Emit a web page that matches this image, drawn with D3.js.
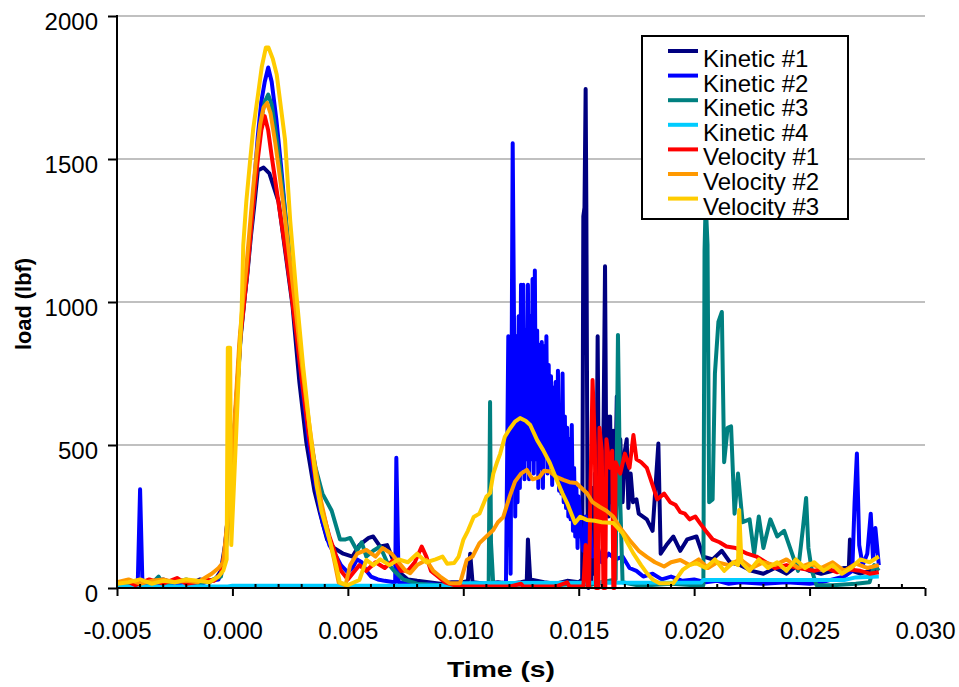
<!DOCTYPE html>
<html>
	<head>
		<meta charset="utf-8">
		<title>Load vs time</title>
		<style>
			body,html
			{
				margin:0px;
				background:#ffffff;
			}
			text
			{
				font-family:Arial, "Liberation Sans", sans-serif;
			}
		</style>
		<script src="https://d3js.org/d3.v7.min.js"></script>
	</head>
	<body>
	<svg id="chart" width="959" height="687"></svg>
	<script>

		// time in ms, load in lbf
		var kinetic1 = [[-5,15],[-4.6,20],[-4.2,12],[-3.8,25],[-3.4,15],[-3,30],[-2.6,18],[-2.2,25],[-1.8,15],[-1.4,30],[-1,20],[-0.7,35],[-0.5,60],[-0.3,160],[-0.1,340],[0.05,510],[0.2,700],[0.35,890],[0.5,1000],[0.65,1100],[0.8,1230],[0.95,1340],[1.1,1460],[1.35,1470],[1.6,1450],[1.8,1400],[2.0,1350],[2.3,1170],[2.6,990],[2.9,720],[3.2,510],[3.55,340],[3.8,260],[4.1,170],[4.4,140],[4.8,120],[5.2,110],[5.5,150],[5.9,175],[6.1,180],[6.4,145],[6.7,150],[7.0,90],[7.3,50],[7.6,30],[8,25],[8.5,20],[9,15],[9.5,20],[10,20],[10.2,25],[10.3,120],[10.4,20],[11,15],[11.5,20],[12,15],[12.5,20],[12.75,25],[12.8,170],[12.9,30],[13.5,20],[14,15],[14.5,25],[15,20],[15.15,30],[15.2,1300],[15.25,1330],[15.3,1745],[15.33,1340],[15.38,300],[15.42,0],[15.5,80],[15.55,20],[15.6,350],[15.65,50],[15.7,400],[15.75,100],[15.82,880],[15.88,250],[15.95,500],[16.0,200],[16.08,600],[16.14,1125],[16.2,350],[16.25,600],[16.3,250],[16.36,600],[16.42,300],[16.5,550],[16.57,280],[16.65,670],[16.72,320],[16.8,520],[16.9,300],[17.0,480],[17.08,520],[17.15,280],[17.25,400],[17.35,300],[17.5,310],[17.6,260],[17.95,240],[18.2,200],[18.45,505],[18.55,120],[18.8,150],[19.1,180],[19.4,130],[19.7,170],[20.1,180],[20.4,110],[20.8,100],[21.2,130],[21.55,90],[22,80],[22.5,60],[23,50],[23.5,70],[24,50],[24.5,80],[25,60],[25.5,50],[26,60],[26.5,70],[26.7,70],[26.75,170],[26.85,60],[27.2,50],[27.6,60],[28,70]];

		var kinetic2 = [[-5,10],[-4.5,15],[-4.1,20],[-4.0,345],[-3.9,20],[-3.5,10],[-3,20],[-2.5,15],[-2,20],[-1.5,10],[-1,25],[-0.6,30],[-0.4,80],[-0.2,250],[0,450],[0.2,680],[0.35,880],[0.5,1000],[0.65,1120],[0.8,1260],[0.95,1420],[1.1,1580],[1.25,1700],[1.4,1770],[1.55,1820],[1.7,1770],[1.9,1640],[2.1,1480],[2.3,1300],[2.5,1130],[2.75,930],[3.0,720],[3.3,510],[3.6,360],[3.9,230],[4.2,150],[4.5,110],[4.7,80],[5.0,55],[5.2,70],[5.4,100],[5.6,90],[5.8,60],[6.0,40],[6.3,30],[6.6,25],[7.0,20],[7.05,20],[7.1,455],[7.2,20],[7.6,15],[8,10],[8.5,15],[9,10],[9.5,15],[10,10],[10.5,15],[11,10],[11.5,15],[11.85,20],[11.95,880],[12.05,50],[12.14,1555],[12.2,900],[12.25,250],[12.3,880],[12.35,300],[12.4,950],[12.45,350],[12.5,1060],[12.55,420],[12.6,1060],[12.65,380],[12.7,900],[12.75,450],[12.8,1060],[12.85,380],[12.9,950],[12.95,450],[13.0,1080],[13.05,400],[13.1,1110],[13.15,450],[13.2,900],[13.25,350],[13.3,850],[13.35,420],[13.4,860],[13.45,350],[13.5,845],[13.55,470],[13.6,880],[13.65,400],[13.7,780],[13.75,430],[13.8,740],[13.85,360],[13.9,700],[13.95,420],[14.0,720],[14.05,380],[14.1,760],[14.15,340],[14.2,620],[14.25,330],[14.3,750],[14.35,300],[14.4,600],[14.45,280],[14.5,560],[14.55,250],[14.6,520],[14.65,240],[14.7,570],[14.75,200],[14.8,420],[14.85,180],[14.9,350],[14.95,140],[15.0,320],[15.1,200],[15.2,130],[15.3,250],[15.4,120],[15.5,200],[15.6,110],[15.8,150],[16.0,90],[16.3,120],[16.6,100],[16.9,110],[17.2,70],[17.5,60],[17.8,40],[18.2,50],[18.6,30],[19,40],[19.5,25],[20,30],[20.5,20],[21,25],[21.5,15],[22,20],[23,15],[24,20],[25,15],[25.5,20],[26,30],[26.5,40],[26.85,60],[26.95,300],[27.05,470],[27.15,150],[27.3,80],[27.5,120],[27.65,260],[27.75,100],[27.85,210],[28,80]];

		var kinetic3 = [[-5,20],[-4.5,10],[-4,25],[-3.5,15],[-3.2,40],[-3,15],[-2.5,20],[-2,30],[-1.5,15],[-1,25],[-0.5,40],[-0.3,120],[-0.1,300],[0.05,480],[0.2,680],[0.35,870],[0.5,990],[0.65,1110],[0.8,1250],[0.95,1380],[1.1,1520],[1.25,1640],[1.4,1700],[1.55,1725],[1.7,1690],[1.9,1580],[2.1,1450],[2.3,1300],[2.5,1150],[2.75,960],[3.0,760],[3.3,560],[3.6,420],[3.9,330],[4.3,270],[4.66,170],[4.9,170],[5.1,175],[5.4,130],[5.6,160],[5.8,110],[6.1,130],[6.4,145],[6.7,90],[7.0,60],[7.4,30],[8,15],[9,10],[10,10],[11,10],[11.1,20],[11.16,650],[11.2,160],[11.3,10],[12,10],[13,15],[14,10],[15,15],[15.5,10],[16,20],[16.6,30],[16.7,885],[16.8,300],[16.9,20],[17.5,10],[18,10],[19,15],[20,10],[20.4,10],[20.45,1180],[20.5,1350],[20.58,1200],[20.65,300],[20.8,310],[20.9,750],[21.05,930],[21.2,965],[21.3,440],[21.45,560],[21.6,565],[21.75,260],[21.9,400],[22.1,230],[22.4,240],[22.6,120],[22.8,250],[23.0,140],[23.3,240],[23.6,180],[23.9,200],[24.2,130],[24.5,60],[24.7,200],[24.85,315],[24.95,140],[25.1,60],[25.3,10],[26,10],[27,15],[27.6,20],[27.8,80],[28,60]];

		var kinetic4 = [[-5,5],[-0.2,5],[0,8],[7,8],[9.8,10],[10,17],[20.3,19],[20.4,28],[26.5,28],[27,37],[28,40]];

		var velocity1 = [[-5,15],[-4.6,25],[-4.2,10],[-3.6,30],[-3,15],[-2.4,35],[-2,15],[-1.6,20],[-1.2,30],[-0.8,25],[-0.5,50],[-0.3,140],[-0.1,330],[0.05,500],[0.2,690],[0.35,880],[0.5,990],[0.65,1110],[0.8,1250],[0.95,1380],[1.1,1500],[1.25,1600],[1.4,1650],[1.55,1600],[1.7,1510],[1.9,1400],[2.1,1290],[2.3,1180],[2.5,1060],[2.75,900],[3.0,730],[3.3,540],[3.6,380],[3.9,270],[4.2,180],[4.5,110],[4.7,60],[5.0,30],[5.2,50],[5.5,80],[5.8,60],[6.2,90],[6.6,70],[7.0,100],[7.3,60],[7.6,60],[7.9,90],[8.2,145],[8.4,110],[8.6,60],[8.9,40],[9.2,20],[9.6,10],[10,5],[11,5],[12,5],[12.5,15],[12.6,5],[14,5],[14.5,20],[14.6,5],[15.2,5],[15.3,150],[15.4,5],[15.45,5],[15.5,300],[15.6,727],[15.7,500],[15.75,0],[15.85,0],[15.9,560],[16.0,480],[16.07,0],[16.15,0],[16.2,520],[16.35,420],[16.45,480],[16.5,0],[16.55,0],[16.6,440],[16.8,400],[17.0,470],[17.2,420],[17.37,535],[17.5,450],[17.7,440],[17.95,420],[18.2,360],[18.4,310],[18.7,330],[18.96,300],[19.2,290],[19.4,265],[19.6,260],[19.8,240],[20.05,250],[20.25,227],[20.5,200],[20.8,170],[21.1,160],[21.4,145],[21.8,140],[22.3,120],[22.7,110],[23.1,90],[23.5,70],[24,80],[24.5,70],[25.2,60],[25.7,70],[26.2,55],[26.7,65],[27.2,60],[27.6,50],[28,55]];

		var velocity2 = [[-5,20],[-4.5,30],[-4,15],[-3.5,25],[-3,30],[-2.5,20],[-2,25],[-1.5,20],[-1.2,35],[-0.9,50],[-0.6,70],[-0.4,90],[-0.2,250],[0,460],[0.15,660],[0.3,860],[0.45,1000],[0.6,1120],[0.75,1260],[0.9,1400],[1.05,1520],[1.2,1620],[1.35,1680],[1.5,1696],[1.65,1660],[1.85,1560],[2.05,1440],[2.25,1310],[2.45,1170],[2.7,1000],[2.95,820],[3.25,620],[3.55,440],[3.85,300],[4.15,190],[4.4,100],[4.6,20],[4.9,10],[5.1,80],[5.4,120],[5.8,133],[6.2,110],[6.5,140],[6.9,120],[7.2,90],[7.5,60],[7.7,52],[8.0,80],[8.4,98],[8.7,60],[9.0,40],[9.4,17],[9.86,17],[10.15,98],[10.4,110],[10.7,157],[11.0,180],[11.3,203],[11.5,230],[11.73,248],[12.0,318],[12.24,372],[12.5,400],[12.75,413],[13.0,380],[13.3,388],[13.5,410],[13.75,407],[14.0,390],[14.33,378],[14.6,370],[14.9,367],[15.06,354],[15.35,332],[15.6,300],[15.9,284],[16.2,270],[16.5,249],[16.8,210],[17.2,168],[17.6,130],[17.95,109],[18.3,90],[18.7,75],[19.0,90],[19.4,98],[19.8,80],[20.2,100],[20.6,70],[21.0,90],[21.5,80],[22,100],[22.5,70],[23,90],[23.5,80],[24,100],[24.5,70],[25,85],[25.5,70],[26,90],[26.5,60],[27,85],[27.5,70],[28,80]];

		var velocity3 = [[-5,15],[-4.5,20],[-4,30],[-3.5,15],[-3,25],[-2.5,20],[-2,30],[-1.5,25],[-1,20],[-0.6,40],[-0.4,60],[-0.25,100],[-0.2,840],[-0.1,840],[-0.05,150],[0.05,330],[0.19,590],[0.3,800],[0.4,970],[0.47,1200],[0.6,1350],[0.75,1480],[0.9,1605],[1.1,1720],[1.27,1822],[1.45,1890],[1.56,1890],[1.75,1850],[1.92,1795],[2.1,1680],[2.28,1566],[2.5,1287],[2.78,1019],[3.06,777],[3.36,549],[3.65,357],[3.85,270],[4.08,204],[4.3,140],[4.5,77],[4.65,20],[5.0,10],[5.5,28],[5.8,98],[6.1,80],[6.4,100],[6.8,80],[7.2,100],[7.6,90],[8.0,120],[8.4,90],[8.8,100],[9.1,110],[9.3,85],[9.6,87],[9.8,110],[10.0,168],[10.2,200],[10.45,248],[10.7,260],[11.0,319],[11.16,332],[11.3,400],[11.45,437],[11.6,470],[11.8,529],[12.0,555],[12.24,582],[12.46,594],[12.7,585],[12.9,570],[13.2,517],[13.46,482],[13.75,437],[14.05,378],[14.3,330],[14.5,297],[14.84,227],[15.06,249],[15.35,238],[15.7,235],[16.0,230],[16.5,227],[16.9,192],[17.1,160],[17.36,122],[17.7,80],[17.95,52],[18.2,30],[18.5,17],[19.1,17],[19.3,40],[19.5,63],[19.8,80],[20.1,87],[20.5,70],[20.9,100],[21.3,60],[21.7,90],[21.9,80],[21.95,273],[22.05,90],[22.4,60],[22.8,100],[23.2,70],[23.6,90],[24,60],[24.4,100],[24.8,70],[25.2,90],[25.6,60],[26,80],[26.4,50],[26.8,70],[27.2,100],[27.6,90],[28,110]];

		var seriesNames = ["Kinetic #1","Kinetic #2","Kinetic #3","Kinetic #4","Velocity #1","Velocity #2","Velocity #3"];
		var seriesColors = ["#000080","#0000FF","#008080","#00CCFF","#FF0000","#FF9900","#FFCC00"];
		var seriesData = [kinetic1,kinetic2,kinetic3,kinetic4,velocity1,velocity2,velocity3];

		var xTicks = [-0.005,0,0.005,0.01,0.015,0.02,0.025,0.03];
		var yTicks = [0,500,1000,1500,2000];

		var plotLeft = 117, plotRight = 925, plotTop = 16, plotBottom = 588;

		var svg = d3.select('#chart');

		var x = d3.scaleLinear().domain([-0.005,0.030]).range([plotLeft,plotRight]);
		var y = d3.scaleLinear().domain([0,2000]).range([plotBottom,plotTop]);

		// gridlines
		svg.append('g').selectAll('line').data(yTicks.filter(function(d){ return d > 0; }))
			.enter().append('line')
			.attr('x1',plotLeft).attr('x2',plotRight)
			.attr('y1',function(d){ return y(d); }).attr('y2',function(d){ return y(d); })
			.style('stroke','#c0c0c0').style('stroke-width',2);

		// series
		var line = d3.line()
			.x(function(d){ return x(d[0]/1000); })
			.y(function(d){ return y(d[1]); });

		svg.append('g').selectAll('path').data(seriesData)
			.enter().append('path')
			.attr('d',line)
			.style('fill','none')
			.style('stroke',function(d,i){ return seriesColors[i]; })
			.style('stroke-width',4)
			.style('stroke-linejoin','round');

		// x axis
		var fmt = d3.format('.3f');
		var xAxis = svg.append('g').attr('transform','translate(0,'+plotBottom+')')
			.call(d3.axisBottom(x).tickValues(xTicks)
				.tickFormat(function(d){ return fmt(d).replace('\u2212','-'); })
				.tickSize(8).tickPadding(10));
		xAxis.select('.domain').remove();
		xAxis.selectAll('line').style('stroke','#000').style('stroke-width',2);
		xAxis.selectAll('text').style('font-size','24px').style('fill','#000').attr('dy','1.37em');

		// minor ticks pointing up
		svg.append('g').selectAll('line').data(d3.range(-4,30).filter(function(d){ return d % 5 != 0; }))
			.enter().append('line')
			.attr('x1',function(d){ return x(d/1000); }).attr('x2',function(d){ return x(d/1000); })
			.attr('y1',plotBottom).attr('y2',plotBottom-4)
			.style('stroke','#000').style('stroke-width',2);

		// y axis
		var yAxis = svg.append('g').attr('transform','translate('+plotLeft+',0)')
			.call(d3.axisLeft(y).tickValues(yTicks).tickFormat(d3.format('d')).tickSize(9).tickPadding(10));
		yAxis.select('.domain').remove();
		yAxis.selectAll('line').style('stroke','#000').style('stroke-width',2);
		yAxis.selectAll('text').style('font-size','24px').style('fill','#000').attr('dy','0.58em');

		svg.append('line').attr('x1',plotLeft).attr('x2',plotLeft).attr('y1',plotTop-1).attr('y2',plotBottom+1)
			.style('stroke','#000').style('stroke-width',2);
		svg.append('line').attr('x1',plotLeft-1).attr('x2',plotRight).attr('y1',plotBottom).attr('y2',plotBottom)
			.style('stroke','#000').style('stroke-width',2);

		// axis titles
		svg.append('text').attr('x',501).attr('y',677)
			.attr('text-anchor','middle')
			.attr('textLength',108).attr('lengthAdjust','spacingAndGlyphs')
			.style('font-size','22px').style('font-weight','bold')
			.text('Time (s)');

		svg.append('text').attr('transform','translate(31,304) rotate(-90)')
			.attr('text-anchor','middle')
			.attr('textLength',92).attr('lengthAdjust','spacingAndGlyphs')
			.style('font-size','22px').style('font-weight','bold')
			.text('load (lbf)');

		// legend
		var legend = svg.append('g');
		legend.append('rect').attr('x',642).attr('y',36).attr('width',206).attr('height',183)
			.style('fill','#fff').style('stroke','none');

		var rows = legend.selectAll('g').data(seriesNames).enter().append('g')
			.attr('transform',function(d,i){ return 'translate(0,'+(51+i*24.6)+')'; });
		rows.append('line').attr('x1',668).attr('x2',698).attr('y1',0).attr('y2',0)
			.style('stroke',function(d,i){ return seriesColors[i]; })
			.style('stroke-width',4);
		rows.append('text').attr('x',703).attr('y',16)
			.style('font-size','24px').style('fill','#000')
			.text(function(d){ return d; });

		legend.append('rect').attr('x',642).attr('y',36).attr('width',206).attr('height',183)
			.style('fill','none').style('stroke','#000').style('stroke-width',2);

	</script>
	</body>
</html>
